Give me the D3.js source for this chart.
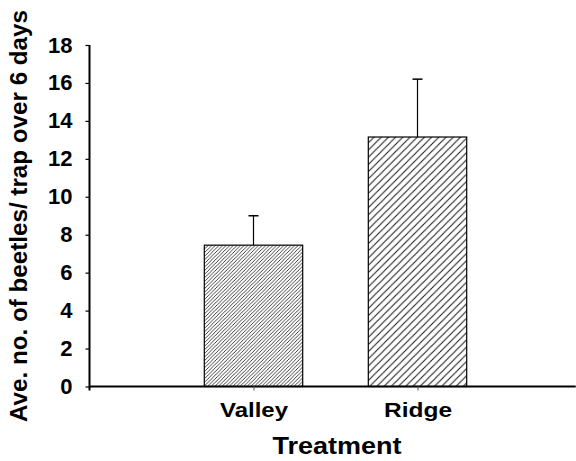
<!DOCTYPE html>
<html>
<head>
<meta charset="utf-8">
<script src="https://cdn.jsdelivr.net/npm/d3@7"></script>
<style>
  html, body { margin: 0; padding: 0; background: #fff; }
  text { font-family: "Liberation Sans", Arial, Helvetica, sans-serif; font-weight: bold; fill: #000; }
</style>
</head>
<body>
<svg id="chart" width="576" height="461"></svg>
<script>
const categories = ["Valley", "Ridge"];
const means = [7.45, 13.15];
const errors = [1.55, 3.05];
const yTicks = [0, 2, 4, 6, 8, 10, 12, 14, 16, 18];
const hatchSpacing = [3.6, 7.2];
const yTitle = "Ave. no. of beetles/ trap over 6 days";
const xTitle = "Treatment";

const svg = d3.select("#chart");

const x = d3.scaleLinear().domain([0, 3]).range([89.5, 581.5]);
const y = d3.scaleLinear().domain([0, 18]).range([386.5, 45]);
const barW = (x(1) - x(0)) * 0.6;

// hatch patterns
const defs = svg.append("defs");
categories.forEach((c, i) => {
  const s = hatchSpacing[i];
  const p = defs.append("pattern")
    .attr("id", "hatch" + i)
    .attr("patternUnits", "userSpaceOnUse")
    .attr("width", s).attr("height", s);
  p.append("path")
    .attr("d", `M0,${s} L${s},0 M${-s/2},${s/2} L${s/2},${-s/2} M${s/2},${s*1.5} L${s*1.5},${s/2}`)
    .attr("stroke", "#111")
    .attr("stroke-width", i === 0 ? 0.8 : 1)
    .attr("fill", "none");
});

// bars
svg.selectAll("rect.bar").data(categories).enter().append("rect")
  .attr("class", "bar")
  .attr("x", (d, i) => x(i + 1) - barW / 2)
  .attr("y", (d, i) => y(means[i]))
  .attr("width", barW)
  .attr("height", (d, i) => y(0) - y(means[i]))
  .attr("fill", (d, i) => `url(#hatch${i})`)
  .attr("stroke", "#000")
  .attr("stroke-width", 1.2);

// error bars
categories.forEach((c, i) => {
  const cx = x(i + 1);
  svg.append("line")
    .attr("x1", cx).attr("x2", cx)
    .attr("y1", y(means[i])).attr("y2", y(means[i] + errors[i]))
    .attr("stroke", "#000").attr("stroke-width", 1.2);
  svg.append("line")
    .attr("x1", cx - 5).attr("x2", cx + 5)
    .attr("y1", y(means[i] + errors[i])).attr("y2", y(means[i] + errors[i]))
    .attr("stroke", "#000").attr("stroke-width", 1.5);
});

// y axis
const yAxis = d3.axisLeft(y).tickValues(yTicks).tickSize(4).tickPadding(13);
const gy = svg.append("g").attr("transform", `translate(${x(0)},0)`).call(yAxis);
gy.select(".domain").attr("stroke", "#000").attr("stroke-width", 2).attr("d", `M0,${y(18)}V${y(0) + 4}`);
gy.selectAll(".tick line").attr("stroke", "#000").attr("stroke-width", 1.2);
gy.selectAll(".tick text")
  .style("font-size", "22px").style("font-weight", "bold")
  .style("font-family", '"Liberation Sans", Arial, sans-serif')
  .attr("fill", "#000");

// x axis
const xAxis = d3.axisBottom(x).tickValues([1, 2]).tickFormat((d) => categories[d - 1]).tickSize(4).tickPadding(12);
const gx = svg.append("g").attr("transform", `translate(0,${y(0)})`).call(xAxis);
gx.select(".domain").attr("stroke", "#000").attr("stroke-width", 2).attr("d", `M${x(0)},0H${x(2.965)}`);
gx.selectAll(".tick line").attr("stroke", "#555").attr("stroke-width", 1);
gx.selectAll(".tick text")
  .style("font-size", "20px").style("font-weight", "bold")
  .style("font-family", '"Liberation Sans", Arial, sans-serif')
  .attr("fill", "#000")
  .attr("dy", "0.71em")
  .attr("textLength", 68)
  .attr("lengthAdjust", "spacingAndGlyphs");

// axis titles
svg.append("text")
  .attr("x", 337).attr("y", 454)
  .attr("text-anchor", "middle")
  .style("font-size", "23px")
  .attr("textLength", 129)
  .attr("lengthAdjust", "spacingAndGlyphs")
  .text(xTitle);

svg.append("text")
  .attr("transform", "translate(27,216) rotate(-90)")
  .attr("text-anchor", "middle")
  .style("font-size", "23px")
  .attr("textLength", 412)
  .attr("lengthAdjust", "spacingAndGlyphs")
  .text(yTitle);
</script>
</body>
</html>
